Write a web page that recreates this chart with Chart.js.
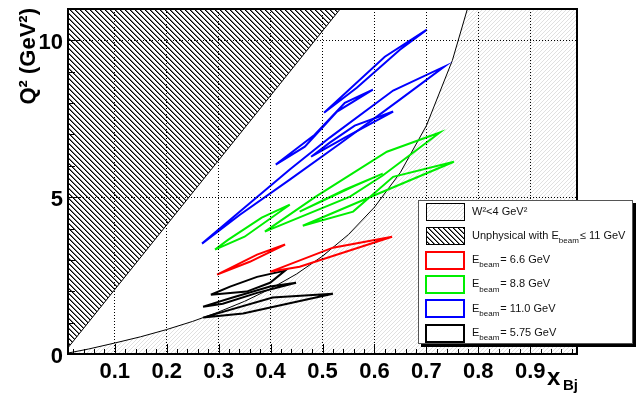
<!DOCTYPE html>
<html>
<head>
<meta charset="utf-8">
<script src="https://cdn.jsdelivr.net/npm/chart.js@4"></script>
<style>
  html, body { margin: 0; background: #fff; }
</style>
</head>
<body>
<canvas id="myChart" width="636" height="396"></canvas>
<script>
// axis ticks
const xTickValues = [0.1, 0.2, 0.3, 0.4, 0.5, 0.6, 0.7, 0.8, 0.9];
const xTickLabels = ['0.1', '0.2', '0.3', '0.4', '0.5', '0.6', '0.7', '0.8', '0.9'];
const yTickValues = [0, 5, 10];
const yTickLabels = ['0', '5', '10'];

// W^2 = 4 GeV^2 boundary
const w2X = [0.01, 0.05, 0.10, 0.15, 0.20, 0.25, 0.30, 0.35, 0.40, 0.45, 0.50, 0.55, 0.60, 0.65, 0.70, 0.75, 0.78];
const w2Y = [0.03, 0.16, 0.35, 0.55, 0.78, 1.04, 1.34, 1.68, 2.08, 2.55, 3.12, 3.81, 4.68, 5.79, 7.28, 9.36, 11.06];
// the grey hatch carries on past the top right corner
const w2EdgeX = [0.99];
const w2EdgeY = [11.5];

// unphysical edge for E_beam = 11 GeV
const unphysX = [0.01, 0.534];
const unphysY = [0.2, 11.0];

// E_beam = 6.6 GeV contours
const red1X = [0.297, 0.374, 0.428, 0.360, 0.297];
const red1Y = [2.53, 3.17, 3.49, 2.94, 2.53];
const red2X = [0.399, 0.520, 0.634, 0.456, 0.399];
const red2Y = [2.62, 3.39, 3.74, 2.78, 2.62];

// E_beam = 8.8 GeV contours
const green1X = [0.293, 0.350, 0.437, 0.383, 0.318, 0.293];
const green1Y = [3.33, 3.74, 4.76, 4.35, 3.64, 3.33];
const green2X = [0.389, 0.487, 0.624, 0.726, 0.616, 0.553, 0.389];
const green2Y = [3.90, 5.02, 6.45, 7.06, 5.69, 5.02, 3.90];
const green3X = [0.456, 0.543, 0.616, 0.562, 0.456];
const green3Y = [4.54, 5.24, 5.75, 5.36, 4.54];
const green4X = [0.462, 0.607, 0.753, 0.636, 0.559, 0.462];
const green4Y = [4.09, 5.11, 6.13, 5.65, 4.54, 4.09];

// E_beam = 11.0 GeV contours
const blue1X = [0.503, 0.620, 0.701, 0.649, 0.566, 0.503];
const blue1Y = [7.69, 9.48, 10.34, 9.70, 8.49, 7.69];
const blue2X = [0.410, 0.466, 0.528, 0.597, 0.543, 0.485, 0.410];
const blue2Y = [6.04, 6.61, 7.73, 8.43, 8.01, 6.99, 6.04];
const blue3X = [0.268, 0.341, 0.437, 0.534, 0.649, 0.734, 0.636, 0.514, 0.437, 0.341, 0.268];
const blue3Y = [3.52, 4.44, 5.56, 6.71, 8.11, 9.16, 8.40, 6.90, 5.88, 4.54, 3.52];
const blue4X = [0.478, 0.543, 0.636, 0.562, 0.514, 0.478];
const blue4Y = [6.29, 6.90, 7.73, 7.28, 6.74, 6.29];

// E_beam = 5.75 GeV contours
const black1X = [0.285, 0.322, 0.374, 0.428, 0.399, 0.354, 0.285];
const black1Y = [1.89, 2.15, 2.46, 2.66, 2.27, 1.99, 1.89];
const black2X = [0.270, 0.327, 0.399, 0.449, 0.374, 0.308, 0.270];
const black2Y = [1.51, 1.80, 2.15, 2.27, 1.95, 1.60, 1.51];
const black3X = [0.270, 0.404, 0.520, 0.347, 0.270];
const black3Y = [1.16, 1.80, 1.92, 1.29, 1.16];

// legend text
const legendPre = ['W\u00B2<4 GeV\u00B2', 'Unphysical with E', 'E', 'E', 'E', 'E'];
const legendSub = ['', 'beam', 'beam', 'beam', 'beam', 'beam'];
const legendPost = ['', '\u2264 11 GeV', '= 6.6 GeV', '= 8.8 GeV', '= 11.0 GeV', '= 5.75 GeV'];
const beamColors = ['#ff0000', '#00ee00', '#0000ff', '#000000'];

const FONT = "'Liberation Sans', Arial, Helvetica, sans-serif";

function pts(xs, ys) {
  return xs.map((x, i) => ({x: x, y: ys[i]}));
}

// pixel hatch tiles, like ROOT fill styles 3004 / 3005
function hatch(size, color, soft, back) {
  const c = document.createElement('canvas');
  c.width = c.height = size;
  const g = c.getContext('2d');
  for (let i = 0; i < size; i++) {
    const y = back ? i : size - 1 - i;
    g.fillStyle = color;
    g.fillRect(i, y, 1, 1);
    if (soft) {
      g.fillStyle = soft;
      g.fillRect((i + 1) % size, y, 1, 1);
    }
  }
  return g.createPattern(c, 'repeat');
}
const greyHatch = hatch(4, '#e0e0e0', null, false);
const blackHatch = hatch(5, '#000', '#777', true);

const contours = [
  [[red1X, red1Y], [red2X, red2Y]],
  [[green1X, green1Y], [green2X, green2Y], [green3X, green3Y], [green4X, green4Y]],
  [[blue1X, blue1Y], [blue2X, blue2Y], [blue3X, blue3Y], [blue4X, blue4Y]],
  [[black1X, black1Y], [black2X, black2Y], [black3X, black3Y]]
];

const datasets = [
  {data: pts(w2X.concat(w2EdgeX), w2Y.concat(w2EdgeY)), fill: 'start', backgroundColor: greyHatch,
   borderWidth: 0, borderColor: 'rgba(0,0,0,0)', order: 5},
  {data: pts(unphysX, unphysY), fill: 'end', backgroundColor: blackHatch,
   borderWidth: 1, borderColor: '#000', order: 4},
  {data: pts(w2X, w2Y), fill: false, borderWidth: 1, borderColor: '#000', order: 3}
];
contours.forEach((group, b) => {
  group.forEach(c => {
    datasets.push({data: pts(c[0], c[1]), fill: false, borderWidth: 2,
                   borderColor: beamColors[b], order: 1});
  });
});

const rootDecor = {
  id: 'rootDecor',
  afterDraw(chart) {
    const ctx = chart.ctx;
    const {left, right, top, bottom} = chart.chartArea;
    const xs = chart.scales.x, ys = chart.scales.y;
    ctx.save();

    // ticks pointing inside the frame
    ctx.strokeStyle = '#000';
    ctx.lineWidth = 1;
    ctx.beginPath();
    for (let k = 1; k < 50; k++) {
      const v = k * 0.02;
      if (v < xs.min || v > xs.max) continue;
      const px = Math.round(xs.getPixelForValue(v)) + 0.5;
      const len = (k % 5 === 0) ? 10 : 5;
      ctx.moveTo(px, bottom);
      ctx.lineTo(px, bottom - len);
    }
    for (let v = 1; v <= 10; v++) {
      const py = Math.round(ys.getPixelForValue(v)) + 0.5;
      const len = (v % 5 === 0) ? 13 : 7;
      ctx.moveTo(left, py);
      ctx.lineTo(left + len, py);
    }
    ctx.stroke();

    // frame
    ctx.lineWidth = 2;
    ctx.strokeRect(left, top, right - left, bottom - top);

    // axis titles
    ctx.fillStyle = '#000';
    ctx.font = 'bold 22px ' + FONT;
    ctx.save();
    ctx.translate(35, 8);
    ctx.rotate(-Math.PI / 2);
    ctx.textAlign = 'right';
    ctx.textBaseline = 'alphabetic';
    ctx.fillText('Q\u00B2 (GeV\u00B2)', 0, 0);
    ctx.restore();
    ctx.textAlign = 'left';
    ctx.textBaseline = 'alphabetic';
    ctx.font = 'bold 24px ' + FONT;
    ctx.fillText('x', 547, 385);
    ctx.font = 'bold 15px ' + FONT;
    ctx.fillText('Bj', 563, 390);

    // legend box with shadow
    const bx = 418, by = 200, bw = 215, bh = 144;
    ctx.fillStyle = '#000';
    ctx.fillRect(bx + 3, by + 3, bw, bh);
    ctx.fillStyle = '#fff';
    ctx.fillRect(bx, by, bw, bh);
    ctx.strokeStyle = '#555';
    ctx.lineWidth = 1;
    ctx.strokeRect(bx + 0.5, by + 0.5, bw - 1, bh - 1);

    for (let i = 0; i < legendPre.length; i++) {
      const cy = by + 11.5 + i * 24.3;
      const ix = 426, iy = Math.round(cy - 8.5);
      if (i < 2) {
        ctx.fillStyle = i === 0 ? greyHatch : blackHatch;
        ctx.fillRect(ix, iy, 38, 17);
        ctx.strokeStyle = '#000';
        ctx.lineWidth = 1;
        ctx.strokeRect(ix + 0.5, iy + 0.5, 38, 17);
      } else {
        ctx.strokeStyle = beamColors[i - 2];
        ctx.lineWidth = 2;
        ctx.strokeRect(ix, iy, 38, 17);
      }
      ctx.fillStyle = '#111';
      ctx.textBaseline = 'middle';
      let tx = 472;
      ctx.font = '11px ' + FONT;
      ctx.fillText(legendPre[i], tx, cy);
      tx += ctx.measureText(legendPre[i]).width;
      if (legendSub[i]) {
        ctx.font = '8px ' + FONT;
        ctx.fillText(legendSub[i], tx, cy + 5);
        tx += ctx.measureText(legendSub[i]).width + 1;
      }
      ctx.font = '11px ' + FONT;
      ctx.fillText(legendPost[i], tx, cy);
    }
    ctx.restore();
  }
};

new Chart(document.getElementById('myChart'), {
  type: 'line',
  data: {datasets: datasets},
  options: {
    responsive: false,
    animation: false,
    events: [],
    layout: {padding: {left: 0, top: 9, right: 59, bottom: 0}},
    elements: {point: {radius: 0}, line: {tension: 0}},
    plugins: {legend: {display: false}, tooltip: {enabled: false}},
    scales: {
      x: {
        type: 'linear', min: 0.01, max: 0.99,
        afterBuildTicks: s => { s.ticks = xTickValues.map(v => ({value: v})); },
        afterFit: s => { s.height = 42; s.paddingLeft = 0; s.paddingRight = 0; },
        ticks: {callback: (v, i) => xTickLabels[i], color: '#000', padding: 5,
                maxRotation: 0, autoSkip: false,
                font: {family: FONT, size: 22, weight: 'bold'}},
        grid: {color: '#000', lineWidth: 1, drawTicks: false, z: 1},
        border: {display: false, dash: [1, 2]}
      },
      y: {
        type: 'linear', min: 0, max: 11,
        afterBuildTicks: s => { s.ticks = yTickValues.map(v => ({value: v})); },
        afterFit: s => { s.width = 68; s.paddingTop = 0; s.paddingBottom = 0; },
        ticks: {callback: (v, i) => yTickLabels[i], color: '#000', padding: 5,
                labelOffset: 3, font: {family: FONT, size: 22, weight: 'bold'}},
        grid: {color: '#000', lineWidth: 1, drawTicks: false, z: 1},
        border: {display: false, dash: [1, 2]}
      }
    }
  },
  plugins: [rootDecor]
});
</script>
</body>
</html>
